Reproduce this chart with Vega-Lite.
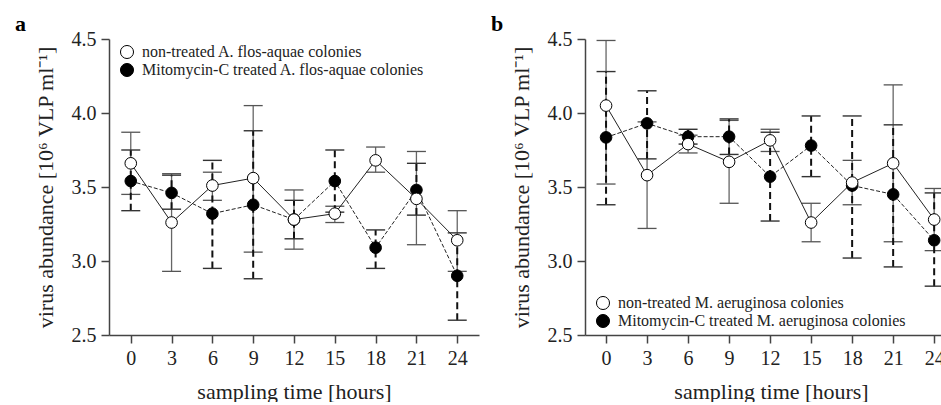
{
  "$schema": "https://vega.github.io/schema/vega-lite/v6.json",
  "padding": {"left": 14, "top": 13, "right": 0, "bottom": 0},
  "background": "white",
  "config": {
    "font": "Liberation Serif",
    "view": {"stroke": null},
    "axis": {
      "domainColor": "#444", "domainWidth": 1.5, "tickColor": "#444", "tickWidth": 1.5, "tickSize": 8,
      "labelFont": "Liberation Serif", "labelFontSize": 20, "labelColor": "#222", "labelPadding": 5,
      "titleFont": "Liberation Serif", "titleFontSize": 22, "titleFontWeight": "normal", "titleColor": "#222",
      "grid": false
    },
    "legend": {
      "labelFont": "Liberation Serif", "labelFontSize": 16, "labelColor": "#222", "labelOffset": 7, "labelLimit": 0,
      "symbolStrokeColor": "black", "symbolStrokeWidth": 1, "symbolSize": 170, "rowPadding": 0, "padding": 0
    },
    "title": {"font": "Liberation Serif", "fontSize": 22, "fontWeight": "bold", "anchor": "start", "color": "black"}
  },
  "datasets": {
    "a": [
      {"t": 0, "series": "Mitomycin-C treated A. flos-aquae colonies", "treated": true, "mean": 3.54, "lower": 3.34, "upper": 3.75},
      {"t": 3, "series": "Mitomycin-C treated A. flos-aquae colonies", "treated": true, "mean": 3.46, "lower": 3.35, "upper": 3.58},
      {"t": 6, "series": "Mitomycin-C treated A. flos-aquae colonies", "treated": true, "mean": 3.32, "lower": 2.95, "upper": 3.68},
      {"t": 9, "series": "Mitomycin-C treated A. flos-aquae colonies", "treated": true, "mean": 3.38, "lower": 2.88, "upper": 3.88},
      {"t": 12, "series": "Mitomycin-C treated A. flos-aquae colonies", "treated": true, "mean": 3.28, "lower": 3.15, "upper": 3.41},
      {"t": 15, "series": "Mitomycin-C treated A. flos-aquae colonies", "treated": true, "mean": 3.54, "lower": 3.33, "upper": 3.75},
      {"t": 18, "series": "Mitomycin-C treated A. flos-aquae colonies", "treated": true, "mean": 3.09, "lower": 2.95, "upper": 3.21},
      {"t": 21, "series": "Mitomycin-C treated A. flos-aquae colonies", "treated": true, "mean": 3.48, "lower": 3.31, "upper": 3.66},
      {"t": 24, "series": "Mitomycin-C treated A. flos-aquae colonies", "treated": true, "mean": 2.90, "lower": 2.60, "upper": 3.19},
      {"t": 0, "series": "non-treated A. flos-aquae colonies", "treated": false, "mean": 3.66, "lower": 3.45, "upper": 3.87},
      {"t": 3, "series": "non-treated A. flos-aquae colonies", "treated": false, "mean": 3.26, "lower": 2.93, "upper": 3.59},
      {"t": 6, "series": "non-treated A. flos-aquae colonies", "treated": false, "mean": 3.51, "lower": 3.41, "upper": 3.60},
      {"t": 9, "series": "non-treated A. flos-aquae colonies", "treated": false, "mean": 3.56, "lower": 3.06, "upper": 4.05},
      {"t": 12, "series": "non-treated A. flos-aquae colonies", "treated": false, "mean": 3.28, "lower": 3.08, "upper": 3.48},
      {"t": 15, "series": "non-treated A. flos-aquae colonies", "treated": false, "mean": 3.32, "lower": 3.26, "upper": 3.37},
      {"t": 18, "series": "non-treated A. flos-aquae colonies", "treated": false, "mean": 3.68, "lower": 3.60, "upper": 3.77},
      {"t": 21, "series": "non-treated A. flos-aquae colonies", "treated": false, "mean": 3.42, "lower": 3.11, "upper": 3.74},
      {"t": 24, "series": "non-treated A. flos-aquae colonies", "treated": false, "mean": 3.14, "lower": 2.93, "upper": 3.34}
    ],
    "b": [
      {"t": 0, "series": "Mitomycin-C treated M. aeruginosa colonies", "treated": true, "mean": 3.835, "lower": 3.38, "upper": 4.28},
      {"t": 3, "series": "Mitomycin-C treated M. aeruginosa colonies", "treated": true, "mean": 3.93, "lower": 3.69, "upper": 4.15},
      {"t": 6, "series": "Mitomycin-C treated M. aeruginosa colonies", "treated": true, "mean": 3.84, "lower": 3.79, "upper": 3.89},
      {"t": 9, "series": "Mitomycin-C treated M. aeruginosa colonies", "treated": true, "mean": 3.84, "lower": 3.72, "upper": 3.96},
      {"t": 12, "series": "Mitomycin-C treated M. aeruginosa colonies", "treated": true, "mean": 3.57, "lower": 3.27, "upper": 3.87},
      {"t": 15, "series": "Mitomycin-C treated M. aeruginosa colonies", "treated": true, "mean": 3.78, "lower": 3.57, "upper": 3.98},
      {"t": 18, "series": "Mitomycin-C treated M. aeruginosa colonies", "treated": true, "mean": 3.51, "lower": 3.02, "upper": 3.98},
      {"t": 21, "series": "Mitomycin-C treated M. aeruginosa colonies", "treated": true, "mean": 3.45, "lower": 2.96, "upper": 3.92},
      {"t": 24, "series": "Mitomycin-C treated M. aeruginosa colonies", "treated": true, "mean": 3.14, "lower": 2.83, "upper": 3.46},
      {"t": 0, "series": "non-treated M. aeruginosa colonies", "treated": false, "mean": 4.05, "lower": 3.52, "upper": 4.49},
      {"t": 3, "series": "non-treated M. aeruginosa colonies", "treated": false, "mean": 3.58, "lower": 3.22, "upper": 3.94},
      {"t": 6, "series": "non-treated M. aeruginosa colonies", "treated": false, "mean": 3.79, "lower": 3.73, "upper": 3.85},
      {"t": 9, "series": "non-treated M. aeruginosa colonies", "treated": false, "mean": 3.67, "lower": 3.39, "upper": 3.95},
      {"t": 12, "series": "non-treated M. aeruginosa colonies", "treated": false, "mean": 3.815, "lower": 3.74, "upper": 3.89},
      {"t": 15, "series": "non-treated M. aeruginosa colonies", "treated": false, "mean": 3.26, "lower": 3.13, "upper": 3.39},
      {"t": 18, "series": "non-treated M. aeruginosa colonies", "treated": false, "mean": 3.53, "lower": 3.38, "upper": 3.68},
      {"t": 21, "series": "non-treated M. aeruginosa colonies", "treated": false, "mean": 3.66, "lower": 3.13, "upper": 4.19},
      {"t": 24, "series": "non-treated M. aeruginosa colonies", "treated": false, "mean": 3.28, "lower": 3.07, "upper": 3.49}
    ]
  },
  "spacing": 11,
  "resolve": {"scale": {"fill": "independent"}, "legend": {"fill": "independent"}},
  "hconcat": [
    {
      "data": {"name": "a"},
      "width": 370, "height": 296,
      "title": {"text": "a", "dx": -19, "offset": -7},
      "encoding": {
        "x": {"field": "t", "type": "quantitative", "scale": {"domain": [-1.6, 25.6], "nice": false, "zero": false},
              "axis": {"values": [0, 3, 6, 9, 12, 15, 18, 21, 24], "title": "sampling time [hours]", "titlePadding": 13}},
        "y": {"field": "mean", "type": "quantitative", "scale": {"domain": [2.5, 4.5], "nice": false, "zero": false},
              "axis": {"values": [2.5, 3.0, 3.5, 4.0, 4.5], "format": ".1f", "title": "virus abundance [10⁶ VLP ml⁻¹]", "titlePadding": 14}}
      },
      "layer": [
        {"transform": [{"filter": "!datum.treated"}], "mark": {"type": "rule", "stroke": "#666", "strokeWidth": 1.3},
         "encoding": {"y": {"field": "lower", "type": "quantitative"}, "y2": {"field": "upper"}}},
        {"transform": [{"filter": "!datum.treated"}], "mark": {"type": "tick", "orient": "horizontal", "color": "#555", "size": 19, "thickness": 1.3, "opacity": 1},
         "encoding": {"y": {"field": "lower", "type": "quantitative"}}},
        {"transform": [{"filter": "!datum.treated"}], "mark": {"type": "tick", "orient": "horizontal", "color": "#555", "size": 19, "thickness": 1.3, "opacity": 1},
         "encoding": {"y": {"field": "upper", "type": "quantitative"}}},
        {"transform": [{"filter": "datum.treated"}], "mark": {"type": "rule", "stroke": "#111", "strokeWidth": 2, "strokeDash": [7, 4]},
         "encoding": {"y": {"field": "lower", "type": "quantitative"}, "y2": {"field": "upper"}}},
        {"transform": [{"filter": "datum.treated"}], "mark": {"type": "tick", "orient": "horizontal", "color": "#333", "size": 19, "thickness": 1.4, "opacity": 1},
         "encoding": {"y": {"field": "lower", "type": "quantitative"}}},
        {"transform": [{"filter": "datum.treated"}], "mark": {"type": "tick", "orient": "horizontal", "color": "#333", "size": 19, "thickness": 1.4, "opacity": 1},
         "encoding": {"y": {"field": "upper", "type": "quantitative"}}},
        {"transform": [{"filter": "datum.treated"}], "mark": {"type": "line", "stroke": "#222", "strokeWidth": 1, "strokeDash": [4, 2]}, "encoding": {}},
        {"transform": [{"filter": "!datum.treated"}], "mark": {"type": "line", "stroke": "#222", "strokeWidth": 1}, "encoding": {}},
        {"mark": {"type": "point", "shape": "circle", "filled": true, "stroke": "black", "strokeWidth": 1, "size": 135, "opacity": 1},
         "encoding": {
           "fill": {"field": "series", "type": "nominal",
                    "scale": {"domain": ["non-treated A. flos-aquae colonies", "Mitomycin-C treated A. flos-aquae colonies"], "range": ["white", "black"]},
                    "legend": {"title": null, "orient": "none", "legendX": 10, "legendY": 5}}
         }}
      ]
    },
    {
      "data": {"name": "b"},
      "width": 372, "height": 296,
      "title": {"text": "b", "dx": -19, "offset": -7},
      "encoding": {
        "x": {"field": "t", "type": "quantitative", "scale": {"domain": [-1.54, 25.67], "nice": false, "zero": false},
              "axis": {"values": [0, 3, 6, 9, 12, 15, 18, 21, 24], "title": "sampling time [hours]", "titlePadding": 13}},
        "y": {"field": "mean", "type": "quantitative", "scale": {"domain": [2.5, 4.5], "nice": false, "zero": false},
              "axis": {"values": [2.5, 3.0, 3.5, 4.0, 4.5], "format": ".1f", "title": "virus abundance [10⁶ VLP ml⁻¹]", "titlePadding": 14}}
      },
      "layer": [
        {"transform": [{"filter": "!datum.treated"}], "mark": {"type": "rule", "stroke": "#666", "strokeWidth": 1.3},
         "encoding": {"y": {"field": "lower", "type": "quantitative"}, "y2": {"field": "upper"}}},
        {"transform": [{"filter": "!datum.treated"}], "mark": {"type": "tick", "orient": "horizontal", "color": "#555", "size": 19, "thickness": 1.3, "opacity": 1},
         "encoding": {"y": {"field": "lower", "type": "quantitative"}}},
        {"transform": [{"filter": "!datum.treated"}], "mark": {"type": "tick", "orient": "horizontal", "color": "#555", "size": 19, "thickness": 1.3, "opacity": 1},
         "encoding": {"y": {"field": "upper", "type": "quantitative"}}},
        {"transform": [{"filter": "datum.treated"}], "mark": {"type": "rule", "stroke": "#111", "strokeWidth": 2, "strokeDash": [7, 4]},
         "encoding": {"y": {"field": "lower", "type": "quantitative"}, "y2": {"field": "upper"}}},
        {"transform": [{"filter": "datum.treated"}], "mark": {"type": "tick", "orient": "horizontal", "color": "#333", "size": 19, "thickness": 1.4, "opacity": 1},
         "encoding": {"y": {"field": "lower", "type": "quantitative"}}},
        {"transform": [{"filter": "datum.treated"}], "mark": {"type": "tick", "orient": "horizontal", "color": "#333", "size": 19, "thickness": 1.4, "opacity": 1},
         "encoding": {"y": {"field": "upper", "type": "quantitative"}}},
        {"transform": [{"filter": "datum.treated"}], "mark": {"type": "line", "stroke": "#222", "strokeWidth": 1, "strokeDash": [4, 2]}, "encoding": {}},
        {"transform": [{"filter": "!datum.treated"}], "mark": {"type": "line", "stroke": "#222", "strokeWidth": 1}, "encoding": {}},
        {"mark": {"type": "point", "shape": "circle", "filled": true, "stroke": "black", "strokeWidth": 1, "size": 135, "opacity": 1},
         "encoding": {
           "fill": {"field": "series", "type": "nominal",
                    "scale": {"domain": ["non-treated M. aeruginosa colonies", "Mitomycin-C treated M. aeruginosa colonies"], "range": ["white", "black"]},
                    "legend": {"title": null, "orient": "none", "legendX": 10, "legendY": 256}}
         }}
      ]
    }
  ]
}
